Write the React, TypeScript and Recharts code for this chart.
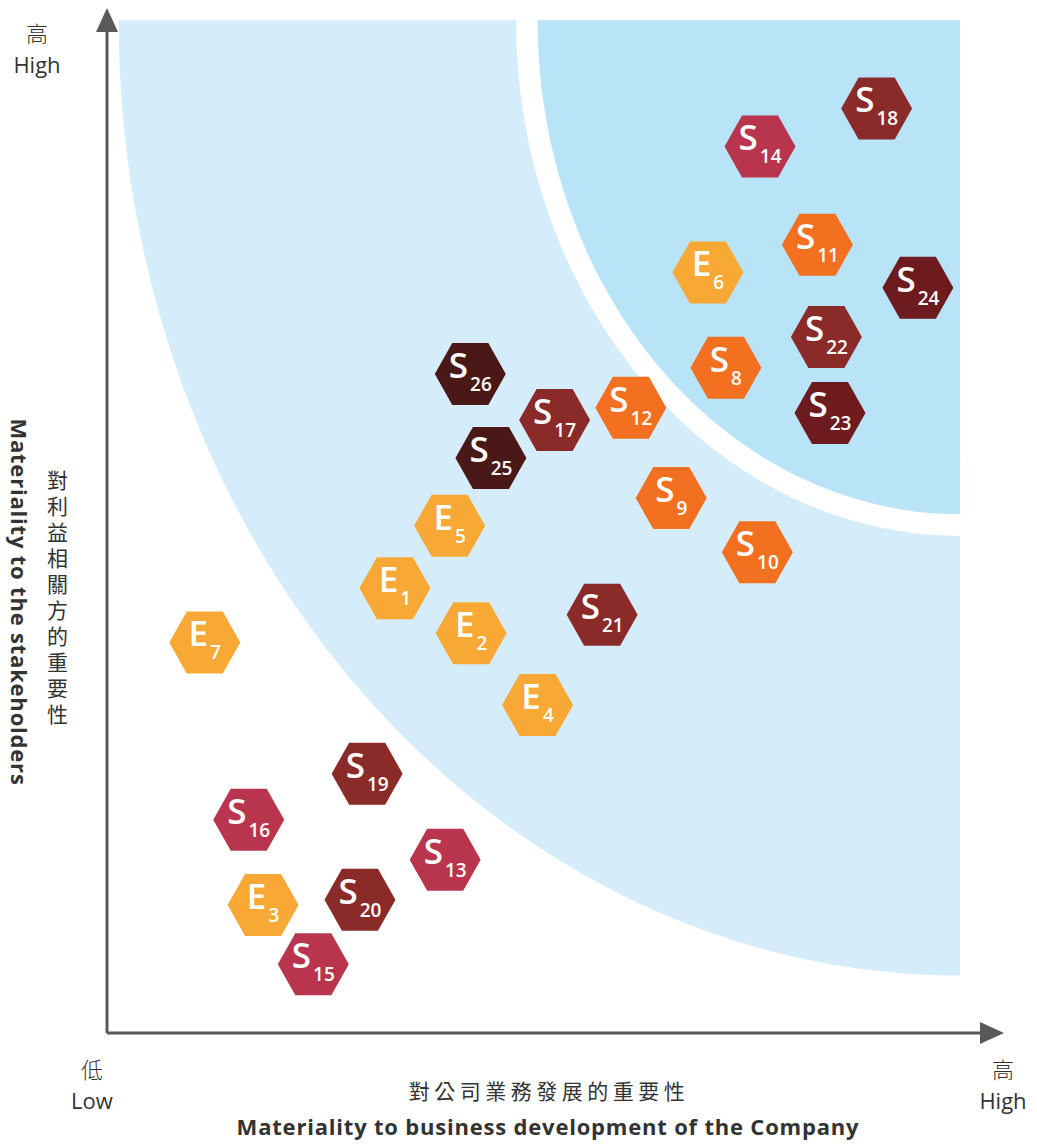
import { ScatterChart, Scatter, XAxis, YAxis, ReferenceArea, ReferenceLine } from 'recharts';

// topic codes, business importance (x), stakeholder importance (y), colour group
const topics = ['E1', 'E2', 'E3', 'E4', 'E5', 'E6', 'E7', 'S8', 'S9', 'S10', 'S11', 'S12', 'S13',
  'S14', 'S15', 'S16', 'S17', 'S18', 'S19', 'S20', 'S21', 'S22', 'S23', 'S24', 'S25', 'S26'];
const businessScore = [32.1, 40.6, 17.4, 48.0, 38.2, 67.0, 10.9, 69.0, 62.9, 72.5, 79.2, 58.4, 37.7,
  72.8, 23.0, 15.8, 49.9, 85.8, 29.0, 28.2, 55.2, 80.2, 80.6, 90.4, 42.8, 40.5];
const stakeholderScore = [43.4, 39.0, 12.5, 32.0, 49.5, 74.2, 38.1, 64.9, 52.2, 46.9, 76.9, 61.0, 16.9,
  86.5, 6.7, 20.8, 59.8, 90.2, 25.3, 13.0, 40.8, 67.9, 60.5, 72.7, 56.1, 64.3];
const group = [0, 0, 0, 0, 0, 0, 0, 1, 1, 1, 1, 1, 2,
  2, 2, 2, 3, 3, 3, 3, 3, 3, 4, 4, 5, 5];

const groupColors = ['#f8a835', '#f37021', '#b8354d', '#8a2b2a', '#6e1b1f', '#4a1917'];

// background zones: [x1, x2, y1, y2, fill]
const zones: [number, number, number, number, string][] = [
  [1.3, 95.1, 5.6, 98.8, '#d5edfa'],
  [45.6, 95.1, 48.5, 98.8, '#ffffff'],
  [48.0, 95.1, 50.6, 98.8, '#b9e4f8'],
];

const data = topics.map((t, i) => ({
  code: t,
  x: businessScore[i],
  y: stakeholderScore[i],
  color: groupColors[group[i]],
}));

const AXIS = '#595959';

const QuarterEllipse = (props: any) => {
  const { x, y, width, height, fill } = props;
  const d = `M${x + width},${y} L${x},${y} A${width},${height} 0 0 0 ${x + width},${y + height} Z`;
  return <path d={d} fill={fill} />;
};

const Arrow = (props: any) => {
  const { x1, y1, x2, y2 } = props;
  const dx = x2 - x1;
  const dy = y2 - y1;
  const len = Math.sqrt(dx * dx + dy * dy);
  const ux = dx / len;
  const uy = dy / len;
  const head = 24;
  const half = 11;
  const bx = x2 - ux * head;
  const by = y2 - uy * head;
  const pts = `${x2},${y2} ${bx - uy * half},${by + ux * half} ${bx + uy * half},${by - ux * half}`;
  return (
    <g>
      <line x1={x1} y1={y1} x2={bx + ux * 2} y2={by + uy * 2} stroke={AXIS} strokeWidth={3} />
      <polygon points={pts} fill={AXIS} />
    </g>
  );
};

const Hexagon = (props: any) => {
  const { cx, cy, payload } = props;
  if (cx == null || cy == null) return null;
  const rx = 35.5;
  const ex = 18;
  const ry = 31;
  const pts = [
    [cx - rx, cy], [cx - ex, cy - ry], [cx + ex, cy - ry],
    [cx + rx, cy], [cx + ex, cy + ry], [cx - ex, cy + ry],
  ].map((p) => p.join(',')).join(' ');
  const letter = payload.code[0];
  const num = payload.code.slice(1);
  return (
    <g>
      <polygon points={pts} fill={payload.color} />
      <text x={cx} y={cy + 4} textAnchor="middle" fill="#fff"
        style={{ fontFamily: '"Open Sans", sans-serif', fontWeight: 600 }}>
        <tspan fontSize={35}>{letter}</tspan>
        <tspan fontSize={19} dx={2} dy={13}>{num}</tspan>
      </text>
    </g>
  );
};

const txt = (left: number, top: number, extra: React.CSSProperties = {}): React.CSSProperties => ({
  position: 'absolute',
  left,
  top,
  transform: 'translate(-50%, -50%)',
  whiteSpace: 'nowrap',
  fontFamily: '"Open Sans", "Noto Sans CJK TC", sans-serif',
  color: '#333',
  fontSize: 22,
  lineHeight: 1,
  ...extra,
});

const cjk = '"Noto Sans CJK TC", sans-serif';

export default function App() {
  return (
    <div style={{ position: 'absolute', left: 0, top: 0, width: 1037, height: 1144, background: '#fff' }}>
      <ScatterChart width={1037} height={1144} margin={{ top: 8, right: 33, bottom: 111, left: 107 }}>
        <XAxis type="number" dataKey="x" domain={[0, 100]} hide />
        <YAxis type="number" dataKey="y" domain={[0, 100]} hide />
        {zones.map((z, i) => (
          <ReferenceArea key={i} x1={z[0]} x2={z[1]} y1={z[2]} y2={z[3]} fill={z[4]}
            fillOpacity={1} stroke="none" ifOverflow="visible" shape={<QuarterEllipse />} />
        ))}
        <ReferenceLine segment={[{ x: 0, y: 0 }, { x: 100, y: 0 }]} ifOverflow="visible" shape={<Arrow />} />
        <ReferenceLine segment={[{ x: 0, y: 0 }, { x: 0, y: 100 }]} ifOverflow="visible" shape={<Arrow />} />
        <Scatter data={data} shape={<Hexagon />} isAnimationActive={false} />
      </ScatterChart>

      <div style={txt(37, 32, { fontFamily: cjk, fontWeight: 300 })}>高</div>
      <div style={txt(37, 64)}>High</div>
      <div style={txt(92, 1068, { fontFamily: cjk, fontWeight: 300 })}>低</div>
      <div style={txt(92, 1100)}>Low</div>
      <div style={txt(1003, 1068, { fontFamily: cjk, fontWeight: 300 })}>高</div>
      <div style={txt(1003, 1100)}>High</div>

      <div style={txt(549, 1090, { fontFamily: cjk, fontSize: 21, letterSpacing: 4.5 })}>對公司業務發展的重要性</div>
      <div style={txt(548, 1126, { fontWeight: 700, fontSize: 22, letterSpacing: 0.8 })}>Materiality to business development of the Company</div>

      <div style={txt(20, 602, { fontWeight: 700, fontSize: 22, letterSpacing: 0.8, transform: 'translate(-50%, -50%) rotate(90deg)' })}>
        Materiality to the stakeholders
      </div>
      <div style={txt(57, 600, { fontFamily: cjk, fontSize: 21, writingMode: 'vertical-rl', letterSpacing: 5 })}>
        對利益相關方的重要性
      </div>
    </div>
  );
}
